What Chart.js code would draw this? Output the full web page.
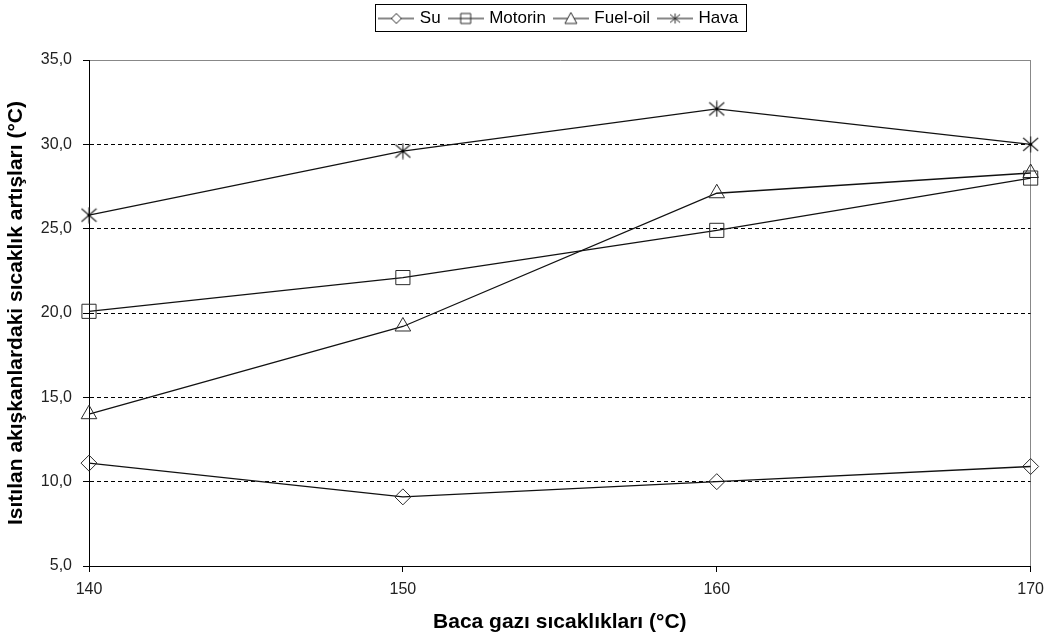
<!DOCTYPE html>
<html>
<head>
<meta charset="utf-8">
<script src="https://cdn.jsdelivr.net/npm/chart.js@4/dist/chart.umd.min.js"></script>
<style>
  html, body { margin: 0; padding: 0; background: #fff; }
  #wrap { width: 1052px; height: 639px; position: relative; }
</style>
</head>
<body>
<div id="wrap"><canvas id="chart" width="1052" height="639"></canvas></div>
<script>
// Baca gazı sıcaklıkları (°C) - x values
const temps = [140, 150, 160, 170];

// temperature rise of each heated fluid (°C)
const su      = [11.1, 9.1, 10.0, 10.9];
const motorin = [20.1, 22.1, 24.9, 28.0];
const fuelOil = [14.0, 19.2, 27.1, 28.3];
const hava    = [25.8, 29.6, 32.1, 30.0];

const seriesNames = ['Su', 'Motorin', 'Fuel-oil', 'Hava'];
const xTicks = [140, 150, 160, 170];
const yTicks = [5, 10, 15, 20, 25, 30, 35];

const FONT = 'Liberation Sans, Arial, sans-serif';
const LINE = '#111';
const MARK = '#2a2a2a';

// asterisk marker (vertical bar + X), Excel style
function asterisk(size) {
  const c = document.createElement('canvas');
  c.width = size; c.height = size;
  const g = c.getContext('2d');
  const m = size / 2;
  g.strokeStyle = MARK;
  g.lineWidth = 1.2;
  g.beginPath();
  g.moveTo(m, 0.5); g.lineTo(m, size - 0.5);
  g.moveTo(1, 2); g.lineTo(size - 1, size - 2);
  g.moveTo(size - 1, 2); g.lineTo(1, size - 2);
  g.stroke();
  g.fillStyle = '#000';
  g.beginPath(); g.arc(m, m, 1.6, 0, Math.PI * 2); g.fill();
  return c;
}
const star = asterisk(17);

const styles = [
  { pointStyle: 'rectRot',  radius: 8 },
  { pointStyle: 'rect',     radius: 10 },
  { pointStyle: 'triangle', radius: 9 },
  { pointStyle: star,       radius: 8 }
];

// legend swatch: short line with marker in the middle
function legendSwatch(i) {
  const w = 36, h = 16;
  const c = document.createElement('canvas');
  c.width = w; c.height = h;
  const g = c.getContext('2d');
  g.strokeStyle = LINE; g.lineWidth = 1.2;
  g.beginPath(); g.moveTo(0, h / 2); g.lineTo(w, h / 2); g.stroke();
  g.strokeStyle = MARK; g.lineWidth = 1;
  const x = w / 2, y = h / 2;
  g.beginPath();
  if (i === 0) {
    g.fillStyle = '#fff';
    g.moveTo(x, y - 5); g.lineTo(x + 5, y); g.lineTo(x, y + 5); g.lineTo(x - 5, y); g.closePath();
    g.fill(); g.stroke();
  } else if (i === 1) {
    g.rect(x - 5, y - 5, 10, 10);
    g.stroke();
  } else if (i === 2) {
    g.fillStyle = '#fff';
    g.moveTo(x, y - 6); g.lineTo(x + 6, y + 5); g.lineTo(x - 6, y + 5); g.closePath();
    g.fill(); g.stroke();
  } else {
    g.moveTo(x, y - 5); g.lineTo(x, y + 5);
    g.moveTo(x - 5, y - 4); g.lineTo(x + 5, y + 4);
    g.moveTo(x + 5, y - 4); g.lineTo(x - 5, y + 4);
    g.stroke();
  }
  return c;
}

const allSeries = [su, motorin, fuelOil, hava];
const datasets = allSeries.map((vals, i) => ({
  label: seriesNames[i],
  data: vals.map((v, k) => ({ x: temps[k], y: v })),
  borderColor: LINE,
  borderWidth: 1.3,
  backgroundColor: 'rgba(0,0,0,0)',
  pointStyle: styles[i].pointStyle,
  pointRadius: styles[i].radius,
  pointBorderColor: MARK,
  pointBorderWidth: 1,
  pointBackgroundColor: 'rgba(0,0,0,0)',
  clip: false,
  tension: 0
}));

// legend gets a fixed height so the plot starts where it does in the original
const legendHeight = {
  id: 'legendHeight',
  afterInit(chart) {
    const lg = chart.legend;
    if (!lg) return;
    const orig = lg.fit;
    lg.fit = function () {
      orig.call(this);
      this.height = 60;
    };
  }
};

// frame around legend items
const legendFrame = {
  id: 'legendFrame',
  afterDraw(chart) {
    const boxes = chart.legend && chart.legend.legendHitBoxes;
    if (!boxes || !boxes.length) return;
    const first = boxes[0], last = boxes[boxes.length - 1];
    const ctx = chart.ctx;
    ctx.save();
    ctx.strokeStyle = '#000';
    ctx.lineWidth = 1;
    const l = Math.round(first.left - 6) + 0.5;
    const r = Math.round(last.left + last.width + 8) + 0.5;
    const t = 4.5;
    const b = 31.5;
    ctx.strokeRect(l, t, r - l, b - t);
    ctx.restore();
  }
};

new Chart(document.getElementById('chart'), {
  type: 'line',
  data: { datasets },
  options: {
    responsive: false,
    animation: false,
    events: [],
    layout: { padding: { top: 0, right: 20, bottom: 0, left: 0 } },
    plugins: {
      tooltip: { enabled: false },
      legend: {
        position: 'top',
        fullSize: false,
        labels: {
          color: '#000',
          font: { family: FONT, size: 17 },
          usePointStyle: true,
          pointStyleWidth: 30,
          padding: 10,
          generateLabels(chart) {
            return chart.data.datasets.map((d, i) => ({
              text: d.label,
              pointStyle: legendSwatch(i),
              datasetIndex: i,
              fontColor: '#000',
              lineWidth: 0,
              strokeStyle: 'transparent',
              fillStyle: 'transparent'
            }));
          }
        }
      }
    },
    scales: {
      x: {
        type: 'linear',
        min: 140,
        max: 170,
        afterBuildTicks(scale) { scale.ticks = xTicks.map(v => ({ value: v })); },
        afterFit(scale) { scale.height = 73; },
        ticks: {
          color: '#222',
          font: { family: FONT, size: 16 },
          padding: 8,
          callback: v => String(v)
        },
        grid: {
          color: ctx => (ctx.tick && ctx.tick.value === 170) ? '#888' : 'rgba(0,0,0,0)',
          tickColor: '#000',
          tickLength: 6,
          lineWidth: 1
        },
        border: { color: '#000', width: 1 },
        title: {
          display: true,
          text: 'Baca gazı sıcaklıkları (°C)',
          color: '#000',
          font: { family: FONT, size: 21, weight: 'bold' },
          padding: { top: 2, bottom: 4 }
        }
      },
      y: {
        min: 5,
        max: 35,
        afterBuildTicks(scale) { scale.ticks = yTicks.map(v => ({ value: v })); },
        afterFit(scale) { scale.width = 89; },
        ticks: {
          color: '#222',
          font: { family: FONT, size: 16 },
          padding: 11,
          callback: v => v.toFixed(1).replace('.', ',')
        },
        grid: {
          color: ctx => {
            if (!ctx.tick) return '#000';
            if (ctx.tick.value === 35) return '#888';
            if (ctx.tick.value === 5) return 'rgba(0,0,0,0)';
            return '#000';
          },
          tickColor: '#000',
          tickLength: 6,
          lineWidth: 1
        },
        border: {
          color: '#000',
          width: 1,
          dash: ctx => (ctx.tick && ctx.tick.value === 35) ? [] : [4, 3]
        },
        title: {
          display: true,
          text: 'Isıtılan akışkanlardaki sıcaklık artışları (°C)',
          color: '#000',
          font: { family: FONT, size: 21, weight: 'bold' },
          padding: { top: 4, bottom: 4 }
        }
      }
    }
  },
  plugins: [legendHeight, legendFrame]
});
</script>
</body>
</html>
